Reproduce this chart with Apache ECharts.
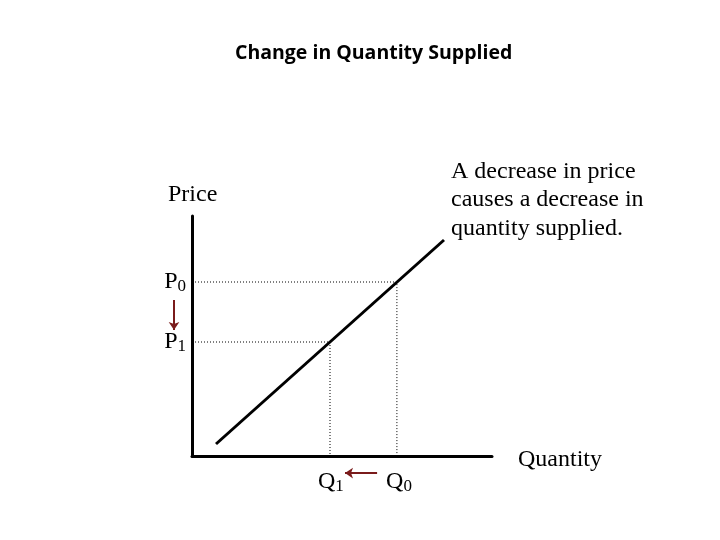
<!DOCTYPE html>
<html>
<head>
<meta charset="utf-8">
<script src="https://cdn.jsdelivr.net/npm/echarts@6/dist/echarts.min.js"></script>
<style>
  html, body { margin: 0; padding: 0; background: #fff; }
  #chart { width: 720px; height: 540px; }
</style>
</head>
<body>
<div id="chart"></div>
<script>
// supply curve end points (quantity, price)
const supplyLine = [[0.8, 0.4], [8.4, 7.2]]
const priceLevels = [5.8, 3.8] // P0, P1
const qtyLevels = [6.83, 4.6]  // Q0, Q1
const priceNames = ['0', '1']
const qtyNames = ['0', '1']
const noteLines = ['A decrease in price', 'causes a decrease in', 'quantity supplied.']

const serif = '"Liberation Serif", "DejaVu Serif", serif'
const arrowColor = '#7a1b1b'

const dotted = (p, q) => ({
    type: 'line',
    data: [[0, p], [q, p], [q, 0]],
    symbol: 'none',
    lineStyle: { color: '#000', width: 1, type: [1, 2] },
    silent: true,
    z: 1
})

const subLabel = (letter, idx, pos, x, y, names) => ({
    type: 'scatter',
    data: [[x, y]],
    symbolSize: 0,
    clip: false,
    silent: true,
    itemStyle: { color: '#000', opacity: 1 },
    label: {
        show: true,
        position: pos,
        distance: 0,
        color: '#000',
        textBorderWidth: 0,
        formatter: '{m|' + letter + '}{s|' + names[idx] + '}',
        rich: {
            m: { fontFamily: serif, fontSize: 24, color: '#000', textBorderWidth: 0 },
            s: { fontFamily: serif, fontSize: 17, color: '#000', textBorderWidth: 0, padding: [10, 0, 0, 0] }
        }
    }
})

const arrow = (coords) => ({
    type: 'lines',
    coordinateSystem: 'cartesian2d',
    clip: false,
    silent: true,
    symbol: ['none', 'arrow'],
    symbolSize: 8,
    lineStyle: { color: arrowColor, width: 2, opacity: 1 },
    data: [{ coords: coords }]
})

const chart = echarts.init(document.getElementById('chart'))
chart.setOption({
    animation: false,
    grid: { left: 192, top: 216, width: 300, height: 240 },
    xAxis: {
        type: 'value', min: 0, max: 10,
        axisLine: { show: true, onZero: false, lineStyle: { color: '#000', width: 3 } },
        axisTick: { show: false }, axisLabel: { show: false }, splitLine: { show: false }
    },
    yAxis: {
        type: 'value', min: 0, max: 8,
        axisLine: { show: true, onZero: false, lineStyle: { color: '#000', width: 3 } },
        axisTick: { show: false }, axisLabel: { show: false }, splitLine: { show: false }
    },
    graphic: [
        {
            type: 'text', left: 235, top: 43,
            style: { text: 'Change in Quantity Supplied', font: 'bold 19.5px "Open Sans", sans-serif', fill: '#000' }
        },
        {
            type: 'text', left: 168, top: 183,
            style: { text: 'Price', font: '24px ' + serif, fill: '#000' }
        },
        {
            type: 'text', left: 518, top: 448,
            style: { text: 'Quantity', font: '24px ' + serif, fill: '#000' }
        },
        {
            type: 'text', left: 451, top: 157,
            style: { text: noteLines.join('\n'), font: '24px ' + serif, lineHeight: 28.5, fill: '#000' }
        }
    ],
    series: [
        {
            type: 'line',
            data: supplyLine,
            symbol: 'none',
            lineStyle: { color: '#000', width: 3 },
            silent: true,
            z: 3
        },
        dotted(priceLevels[0], qtyLevels[0]),
        dotted(priceLevels[1], qtyLevels[1]),
        subLabel('P', 0, 'left', -0.2, priceLevels[0], priceNames),
        subLabel('P', 1, 'left', -0.2, priceLevels[1], priceNames),
        subLabel('Q', 0, 'inside', qtyLevels[0] + 0.07, -0.85, qtyNames),
        subLabel('Q', 1, 'inside', qtyLevels[1] + 0.03, -0.85, qtyNames),
        arrow([[6.17, -0.57], [5.1, -0.57]]),
        arrow([[-0.6, 5.2], [-0.6, 4.2]])
    ]
})
</script>
</body>
</html>
